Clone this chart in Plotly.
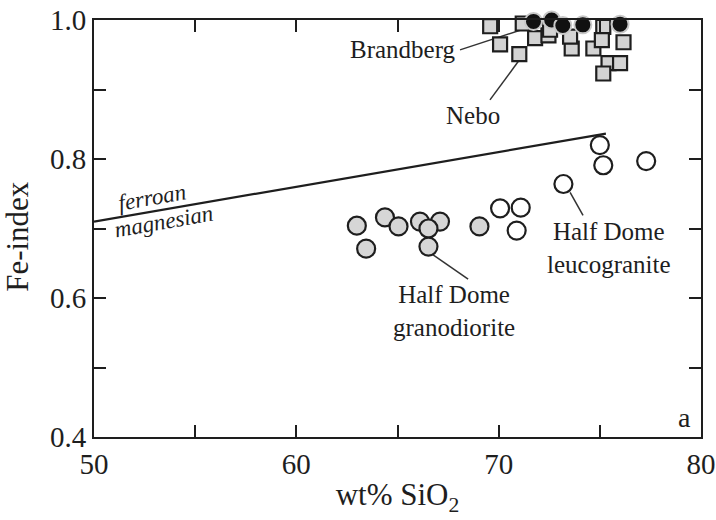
import plotly.graph_objects as go

# Half Dome granodiorite (gray circles)
gd_x = [62.99, 63.45, 64.38, 65.05, 66.11, 67.1, 66.53, 66.53, 69.05]
gd_y = [0.704, 0.671, 0.716, 0.703, 0.710, 0.710, 0.700, 0.674, 0.703]
# Half Dome leucogranite (open circles)
lg_x = [70.07, 71.09, 70.89, 73.2, 75.0, 75.17, 77.29]
lg_y = [0.729, 0.730, 0.697, 0.764, 0.820, 0.791, 0.797]
# Nebo (gray squares)
nb_x = [69.58, 70.07, 71.02, 71.19, 71.8, 72.46, 72.54, 73.61, 73.53, 74.43, 74.68,
        75.17, 75.1, 75.43, 75.17, 76.0, 76.17]
nb_y = [0.991, 0.965, 0.951, 0.995, 0.974, 0.978, 0.986, 0.959, 0.976, 1.005, 0.959,
        0.990, 0.971, 0.938, 0.923, 0.938, 0.968]
# Brandberg (black circles)
bb_x = [71.72, 72.62, 73.17, 74.16, 76.0]
bb_y = [0.998, 1.0, 0.992, 0.993, 0.994]
# ferroan / magnesian boundary
bd_x = [50, 75.3]
bd_y = [0.71, 0.8365]

# labels: text, text x, text y, anchor, leader start(x,y), leader end(x,y)
labels = [
    ("Brandberg", 68.0, 0.958, "right", 68.09, 0.957, 71.55, 0.990),
    ("Nebo", 68.73, 0.862, "center", 69.57, 0.885, 71.01, 0.942),
    ("Half Dome<br>granodiorite", 67.8, 0.582, "center", 68.49, 0.627, 66.76, 0.662),
    ("Half Dome<br>leucogranite", 75.46, 0.672, "center", 74.17, 0.719, 73.53, 0.752),
]

ink = "#1e1e1e"
font = "Liberation Serif"

fig = go.Figure()
fig.add_trace(go.Scatter(x=bd_x, y=bd_y, mode="lines", line=dict(color=ink, width=2.2),
                         hoverinfo="skip"))
for l in labels:
    fig.add_trace(go.Scatter(x=[l[4], l[6]], y=[l[5], l[7]], mode="lines",
                             line=dict(color="#333333", width=1.5), hoverinfo="skip"))
fig.add_trace(go.Scatter(x=gd_x, y=gd_y, mode="markers",
                         marker=dict(symbol="circle", size=18, color="#d6d6d6",
                                     line=dict(color=ink, width=2.2))))
fig.add_trace(go.Scatter(x=lg_x, y=lg_y, mode="markers",
                         marker=dict(symbol="circle", size=18, color="white",
                                     line=dict(color=ink, width=2.2))))
fig.add_trace(go.Scatter(x=nb_x, y=nb_y, mode="markers", cliponaxis=False,
                         marker=dict(symbol="square", size=14, color="#d3d3d3",
                                     line=dict(color=ink, width=2.2))))
fig.add_trace(go.Scatter(x=bb_x, y=bb_y, mode="markers", cliponaxis=False,
                         marker=dict(symbol="circle", size=17, color="#111111",
                                     line=dict(color="#c8c8c8", width=2))))

for text, tx, ty, anc, *_ in labels:
    fig.add_annotation(x=tx, y=ty, text=text, showarrow=False, xanchor=anc,
                       font=dict(family=font, size=25, color=ink))

fig.add_annotation(x=52.87, y=0.745, text="<i>ferroan</i>", showarrow=False, textangle=-10,
                   font=dict(family=font, size=23, color=ink))
fig.add_annotation(x=53.46, y=0.710, text="<i>magnesian</i>", showarrow=False, textangle=-10,
                   font=dict(family=font, size=23, color=ink))
fig.add_annotation(x=79.6, y=0.428, text="a", showarrow=False, xanchor="right",
                   font=dict(family=font, size=28, color=ink))
# y-axis title
fig.add_annotation(xref="paper", yref="paper", x=0, y=0.48, xshift=-76, textangle=-90,
                   text="Fe-index", showarrow=False, xanchor="center", yanchor="middle",
                   font=dict(family=font, size=31, color=ink))

axis_common = dict(showgrid=False, zeroline=False, showline=True, linecolor=ink, linewidth=2,
                   mirror="ticks", ticks="inside", ticklen=12, tickwidth=2, tickcolor=ink,
                   automargin=False,
                   tickfont=dict(family=font, size=29, color=ink))
fig.update_xaxes(range=[50, 80], tick0=50, dtick=10,
                 minor=dict(dtick=5, ticks="inside", ticklen=12, tickwidth=2, tickcolor=ink),
                 title=dict(text="wt% SiO<sub>2</sub>", font=dict(family=font, size=31, color=ink),
                            standoff=5), **axis_common)
fig.update_yaxes(range=[0.4, 1.0], tick0=0.4, dtick=0.2, tickformat=".1f",
                 minor=dict(dtick=0.1, ticks="inside", ticklen=12, tickwidth=2, tickcolor=ink),
                 **axis_common)
fig.update_layout(width=716, height=520, margin=dict(l=94, r=15, t=20, b=83),
                  plot_bgcolor="white", paper_bgcolor="white", showlegend=False)
fig.write_html("out.html")
